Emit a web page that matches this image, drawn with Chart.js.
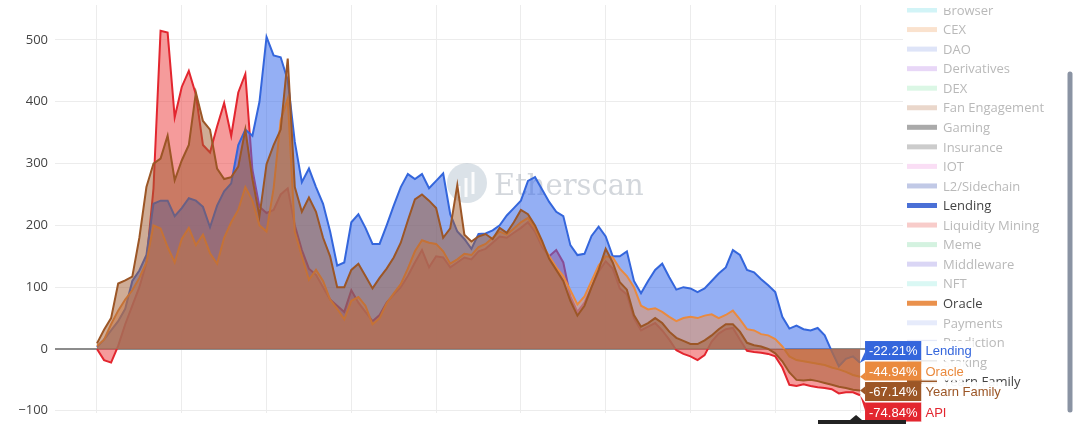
<!DOCTYPE html>
<html>
<head>
<meta charset="utf-8">
<script src="https://cdn.jsdelivr.net/npm/chart.js@4.4.1/dist/chart.umd.min.js"></script>
<style>
  html, body { margin: 0; padding: 0; background: #fff; overflow: hidden; }
  canvas { display: block; }
</style>
</head>
<body>
<canvas id="c" width="1080" height="424"></canvas>
<script>
// values, one point every ~7px (x = day step index)
const api = [0,-18,-22,5,40,70,100,140,260,515,
  512,375,424,450,412,330,318,360,398,345,
  415,445,290,230,220,225,250,260,200,160,
  130,120,100,80,70,60,95,75,60,45,
  55,75,88,100,118,140,160,132,150,148,
  132,140,148,145,158,162,172,182,180,188,
  196,205,190,165,150,160,140,85,60,75,
  100,125,142,130,98,88,50,30,36,42,
  30,15,-2,-8,-12,-18,-10,12,25,32,
  34,15,-3,-5,-6,-8,-12,-30,-58,-60,
  -57,-60,-62,-63,-65,-72,-70,-70,-74.84];
const lending = [3,15,30,45,65,110,127,152,235,240,
  240,215,228,244,240,230,197,232,255,268,
  330,355,345,400,505,475,472,435,335,270,
  292,262,235,190,135,140,205,218,196,170,
  170,200,232,262,283,275,283,260,272,284,
  218,190,178,162,186,187,192,200,216,228,
  240,272,278,258,238,222,215,168,152,154,
  183,198,182,150,150,158,110,90,110,128,
  138,116,96,100,98,92,98,110,122,132,
  160,152,128,124,113,103,92,52,33,38,
  32,30,34,22,-4,-28,-16,-12,-22.21];
const oracle = [5,15,40,62,80,95,115,140,200,195,
  165,140,178,196,168,185,155,138,180,205,
  225,262,240,200,190,260,370,405,190,150,
  112,128,110,80,65,48,78,84,70,40,
  50,74,90,105,130,158,176,172,170,158,
  138,145,154,152,165,170,180,190,185,195,
  205,212,195,170,150,132,118,95,72,85,
  110,135,150,148,130,118,100,70,64,66,
  60,52,45,50,52,50,54,56,50,55,
  62,48,32,30,24,22,16,4,-12,-18,
  -20,-22,-24,-26,-30,-33,-37,-42,-44.94];
const yearn = [9,31,50,106,111,117,180,262,300,308,
  345,273,305,330,415,369,355,292,275,278,
  295,355,275,215,299,330,355,470,262,222,
  245,222,180,150,100,100,128,138,118,98,
  115,130,148,172,208,242,250,240,228,180,
  195,265,185,174,182,186,178,196,188,205,
  225,218,200,175,146,128,110,78,54,70,
  100,128,162,140,108,96,55,36,42,50,
  42,28,18,13,8,8,14,22,32,40,
  40,28,10,6,4,0,-7,-20,-38,-50,
  -51,-50,-52,-55,-58,-61,-63,-66,-67.14];

const xGrid = [0,12,24,36,48,60,72,84,96,108];
const yTicks = [-100,0,100,200,300,400,500];

const legendNames = ['Browser','CEX','DAO','Derivatives','DEX','Fan Engagement','Gaming','Insurance','IOT',
  'L2/Sidechain','Lending','Liquidity Mining','Meme','Middleware','NFT','Oracle','Payments','Prediction','Staking','Yearn Family'];
const legendColors = ['#b4ecf2','#f6cfae','#c8d2f3','#d8bdf2','#c3f1d4','#dcbca8','#727272','#aaaaaa','#f7c8ef',
  '#97a5d6','#4a70d6','#f3aaa6','#b8eacb','#c1baee','#c2f3ec','#ea914c','#d6def8','#d3dbf4','#dcdcdc','#9c5a2a'];
const activeNames = ['Lending','Oracle','Yearn Family'];

// drawn bottom -> top
const series = [
  {name: 'API', values: api, line: '#e3262f', fill: 'rgba(235,55,55,0.5)'},
  {name: 'Lending', values: lending, line: '#3466dc', fill: 'rgba(60,110,235,0.55)'},
  {name: 'Oracle', values: oracle, line: '#ea8a3e', fill: 'rgba(240,145,85,0.5)'},
  {name: 'Yearn Family', values: yearn, line: '#9c5626', fill: 'rgba(160,90,45,0.5)'}
];

const datasets = series.map((s, i) => ({
  label: s.name,
  data: s.values.map((v, k) => ({x: k, y: v})),
  borderColor: s.line,
  backgroundColor: s.fill,
  borderWidth: 2,
  fill: 'origin',
  pointRadius: 0,
  tension: 0,
  order: series.length - i
}));

function drawWatermark(ctx) {
  ctx.save();
  ctx.fillStyle = 'rgba(175,190,205,0.45)';
  ctx.beginPath(); ctx.arc(467, 183, 20, 0, Math.PI * 2); ctx.fill();
  ctx.strokeStyle = 'rgba(255,255,255,0.9)';
  ctx.lineWidth = 3;
  [[459, 186, 197], [466, 178, 197], [473, 172, 194]].forEach(b => {
    ctx.beginPath(); ctx.moveTo(b[0], b[1]); ctx.lineTo(b[0], b[2]); ctx.stroke();
  });
  ctx.font = '29px "DejaVu Serif"';
  ctx.fillStyle = 'rgba(168,176,186,0.5)';
  ctx.textBaseline = 'middle';
  ctx.fillText('Etherscan', 494, 187);
  ctx.restore();
}

function drawLegend(ctx) {
  ctx.save();
  ctx.beginPath(); ctx.rect(900, 8, 160, 396); ctx.clip();
  ctx.font = '13px "Open Sans"';
  ctx.textBaseline = 'middle';
  legendNames.forEach((n, k) => {
    const y = 10 + k * 19.55;
    const on = activeNames.includes(n);
    ctx.globalAlpha = on ? 1 : 0.6;
    ctx.fillStyle = legendColors[k];
    ctx.fillRect(907, y - 2.5, 30, 5);
    ctx.globalAlpha = 1;
    ctx.fillStyle = on ? '#444' : '#b9b9b9';
    ctx.fillText(n, 943, y + 1);
  });
  ctx.restore();
  // scroll bar
  ctx.save();
  ctx.strokeStyle = '#8a93a3';
  ctx.lineWidth = 5;
  ctx.lineCap = 'round';
  ctx.beginPath(); ctx.moveTo(1070, 74); ctx.lineTo(1070, 410); ctx.stroke();
  ctx.restore();
}

function drawHover(chart) {
  const ctx = chart.ctx, xs = chart.scales.x, ys = chart.scales.y;
  const last = api.length - 1;
  const px = xs.getPixelForValue(last);
  const items = series.map(s => ({name: s.name, color: s.line, v: s.values[last], py: ys.getPixelForValue(s.values[last])}))
    .sort((a, b) => a.py - b.py);
  const mean = items.reduce((t, it) => t + it.py, 0) / items.length;
  const h = 19, gap = 20.5;
  ctx.save();
  ctx.textBaseline = 'middle';
  items.forEach((it, k) => {
    const cy = mean + (k - (items.length - 1) / 2) * gap;
    const top = cy - h / 2, left = px + 5;
    ctx.font = '13px "Liberation Sans"';
    const txt = it.v.toFixed(2) + '%';
    const w = ctx.measureText(txt).width + 8;
    const ny = Math.min(Math.max(it.py, top + 4), top + h - 4);
    ctx.fillStyle = it.color;
    ctx.beginPath();
    ctx.moveTo(px, it.py);
    ctx.lineTo(left, ny - 4);
    ctx.lineTo(left, ny + 4);
    ctx.closePath(); ctx.fill();
    ctx.fillRect(left, top, w, h);
    ctx.fillStyle = '#fff';
    ctx.fillText(txt, left + 4, cy + 1);
    const nw = ctx.measureText(it.name).width + 6;
    ctx.fillStyle = 'rgba(255,255,255,0.94)';
    ctx.fillRect(left + w, top, nw, h);
    ctx.fillStyle = it.color;
    ctx.fillText(it.name, left + w + 4, cy + 1);
  });
  // x hover label (cut by the window edge)
  ctx.fillStyle = '#222';
  ctx.beginPath();
  ctx.moveTo(px - 10, 420); ctx.lineTo(px - 4, 415); ctx.lineTo(px + 2, 420); ctx.closePath(); ctx.fill();
  ctx.fillRect(818, 420, 88, 10);
  ctx.restore();
}

const overlay = {
  id: 'overlay',
  beforeDatasetsDraw(chart) { drawWatermark(chart.ctx); },
  afterDraw(chart) { drawLegend(chart.ctx); drawHover(chart); }
};

new Chart(document.getElementById('c'), {
  type: 'line',
  data: { datasets },
  options: {
    responsive: false,
    animation: false,
    layout: { autoPadding: false, padding: { top: 5, bottom: 11, left: 0, right: 177 } },
    plugins: { legend: { display: false }, tooltip: { enabled: false } },
    scales: {
      x: {
        type: 'linear', min: -5.94, max: 114.08,
        afterBuildTicks: s => { s.ticks = xGrid.map(v => ({value: v})); },
        afterFit: s => { s.height = 0; s.paddingLeft = 0; s.paddingRight = 0; },
        ticks: { display: false },
        grid: { color: '#ececec', drawTicks: false },
        border: { display: false }
      },
      y: {
        min: -103.6, max: 556.6,
        afterBuildTicks: s => { s.ticks = yTicks.map(v => ({value: v})); },
        afterFit: s => { s.width = 55; s.paddingTop = 0; s.paddingBottom = 0; },
        ticks: {
          color: '#444', padding: 7,
          font: { family: 'Open Sans', size: 13 },
          callback: v => v < 0 ? '\u2212' + Math.abs(v) : String(v)
        },
        grid: {
          drawTicks: false,
          color: c => c.tick && c.tick.value === 0 ? '#8c8c8c' : '#ececec',
          lineWidth: c => c.tick && c.tick.value === 0 ? 2 : 1
        },
        border: { display: false }
      }
    }
  },
  plugins: [overlay]
});
</script>
</body>
</html>
